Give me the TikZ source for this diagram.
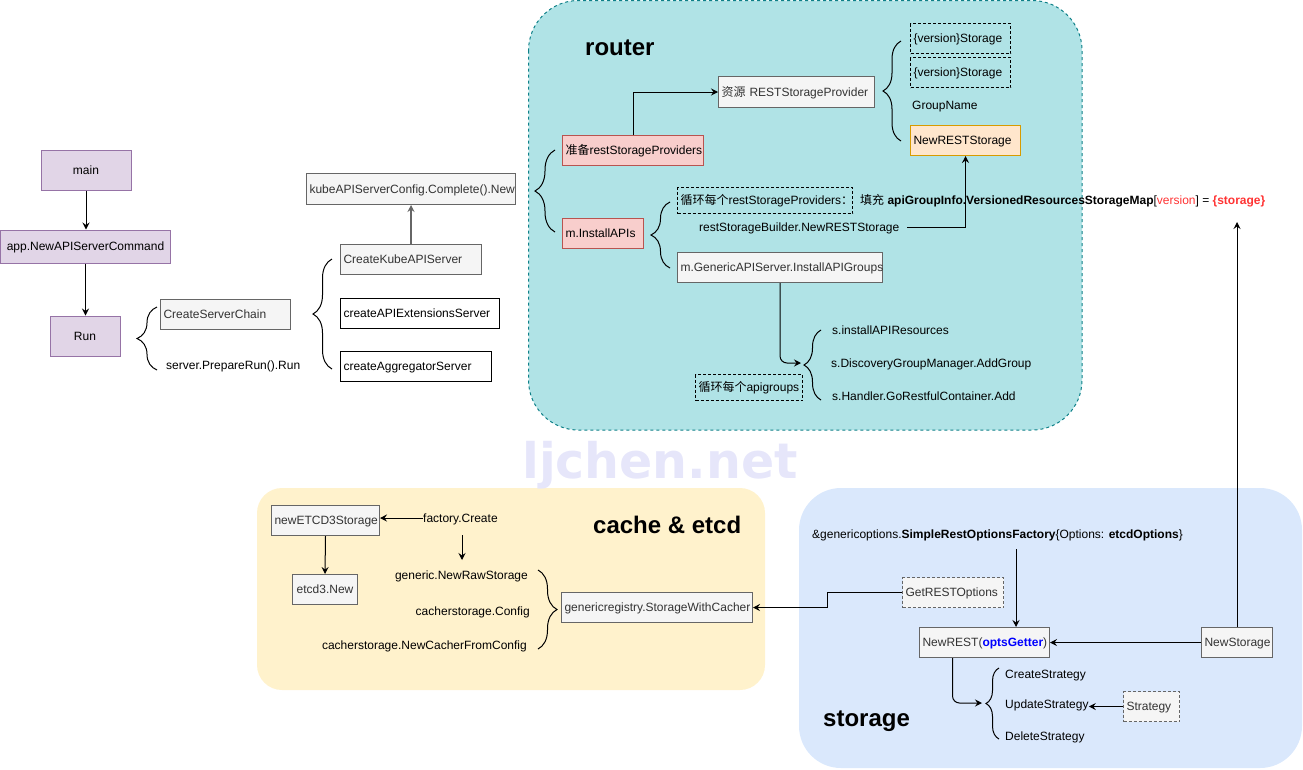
\documentclass[tikz,border=0pt]{standalone}
\usepackage{fontspec}
\setmainfont{Liberation Sans}
\newfontfamily\cjk{Noto Sans CJK SC}
\newfontfamily\wmfont{DejaVu Sans}
\usetikzlibrary{arrows.meta,decorations.pathreplacing}
\definecolor{gfill}{HTML}{F5F5F5}
\definecolor{gline}{HTML}{666666}
\definecolor{gtext}{HTML}{333333}
\definecolor{pfill}{HTML}{E1D5E7}
\definecolor{pline}{HTML}{9673A6}
\definecolor{rfill}{HTML}{F8CECC}
\definecolor{rline}{HTML}{B85450}
\definecolor{ofill}{HTML}{FFE6CC}
\definecolor{oline}{HTML}{D79B00}
\definecolor{tfill}{HTML}{B0E3E6}
\definecolor{tline}{HTML}{0E8088}
\definecolor{yfill}{HTML}{FFF2CC}
\definecolor{bfill}{HTML}{DAE8FC}
\definecolor{wmcol}{HTML}{E6E6FA}
\definecolor{redt}{HTML}{FF3333}
\definecolor{bluet}{HTML}{0000FF}
\begin{document}
\begin{tikzpicture}[x=1pt,y=-1pt,
  every node/.style={font=\fontsize{12}{14}\selectfont, inner sep=0pt, text height=8.6pt, text depth=0pt},
  bx/.style={draw, line width=1pt, inner xsep=3pt, minimum height=30pt, anchor=north west, align=left},
  gbox/.style={bx, draw=gline, fill=gfill, text=gtext},
  wbox/.style={bx, draw=black, fill=white},
  rbox/.style={bx, draw=rline, fill=rfill},
  obox/.style={bx, draw=oline, fill=ofill},
  dbox/.style={bx, draw=black, dashed, dash pattern=on 3pt off 2pt},
  gdbox/.style={bx, draw=gline, fill=gfill, text=gtext, dashed, dash pattern=on 3pt off 2pt},
  pbox/.style={draw=pline, fill=pfill, line width=1pt, align=center},
  title/.style={anchor=west, font=\fontsize{24}{28}\selectfont\bfseries, text height=17pt},
  arr/.style={-{Stealth[length=7pt,width=7pt,inset=2.5pt]}, line width=1pt},
  brc/.style={decorate, decoration={brace, amplitude=#1}, line width=1pt},
]
\useasboundingbox (0,0) rectangle (1303,769);

% regions
\draw[tline, line width=1pt, dash pattern=on 3pt off 3pt, fill=tfill, rounded corners=50pt] (528.5,0.5) rectangle (1082,430);
\fill[yfill, rounded corners=25pt] (257,488) rectangle (765,690);
\fill[bfill, rounded corners=42pt] (799,488) rectangle (1302,768);

% watermark
\node[anchor=base west, font=\wmfont\bfseries\fontsize{49}{55}\selectfont, text=wmcol] (wm) at (522,478) {ljchen.net};

% left column
\node[pbox, minimum width=90pt, minimum height=40pt] (main) at (86,170) {main};
\node[pbox, minimum width=170pt, minimum height=33pt] (app) at (85.5,246.5) {app.NewAPIServerCommand};
\node[pbox, minimum width=70pt, minimum height=40pt] (run) at (85,336) {Run};
\draw[arr] (main.south) -- (main.south |- app.north);
\draw[arr] (app.south) -- (app.south |- run.north);

\draw[brc=20pt] (157,370) -- (157,307);
\node[gbox, text width=124pt] (csc) at (160,299) {CreateServerChain};
\node[anchor=west] (spr) at (166,365) {server.PrepareRun().Run};

\draw[brc=19pt] (332,369) -- (332,259);
\node[gbox, text width=135pt] (cks) at (340,244) {CreateKubeAPIServer};
\node[wbox, text width=153pt] (cae) at (340,298) {createAPIExtensionsServer};
\node[wbox, text width=145pt] (cag) at (340,351) {createAggregatorServer};
\node[gbox, text width=203pt, minimum height=31pt] (kcn) at (306,173) {kubeAPIServerConfig.Complete().New};
\draw[arr, draw=gline, line width=1.5pt] (cks.north) -- (kcn.south);

% router
\node[title] (rt) at (585,47) {router};
\node[gbox, text width=150pt, minimum height=31pt] (rsp) at (718,76) {{\cjk 资源} RESTStorageProvider};
\draw[brc=18pt] (901,141) -- (901,41);
\node[dbox, text width=94pt] (v1) at (910,23) {\{version\}Storage};
\node[dbox, text width=94pt] (v2) at (910,57) {\{version\}Storage};
\node[anchor=west] (gn) at (912,105) {GroupName};
\node[obox, text width=104pt] (nrs) at (910,125) {NewRESTStorage};
\node[rbox, text width=135pt] (prep) at (562,135) {{\cjk 准备}restStorageProviders};
\draw[arr] (prep.north) |- (rsp.west);
\draw[brc=20pt] (555,232) -- (555,150);
\node[rbox, text width=75pt] (mia) at (562,218) {m.InstallAPIs};
\draw[brc=19pt] (670,268) -- (670,202);
\node[dbox, text width=169pt, minimum height=26pt] (lp1) at (677,187) {{\cjk 循环每个}restStorageProviders{\cjk ：}};
\node[anchor=west] (fill) at (860,200) {{\cjk 填充} \textbf{apiGroupInfo.VersionedResourcesStorageMap}[\textcolor{redt}{version}] = \textcolor{redt}{\textbf{\{storage\}}}};
\node[anchor=west] (rsb) at (699,227) {restStorageBuilder.NewRESTStorage};
\coordinate (rsbend) at (907,227);
\draw[arr] (rsbend) -| (nrs.south);
\node[gbox, text width=199pt] (gig) at (677,252) {m.GenericAPIServer.InstallAPIGroups};
\coordinate (agtip) at (801,363);
\draw[arr, rounded corners=7pt] (gig.south) |- (agtip);
\draw[brc=17pt] (821,400) -- (821,330);
\node[anchor=west] (sia) at (832,330) {s.installAPIResources};
\node[anchor=west] (sdg) at (831,363) {s.DiscoveryGroupManager.AddGroup};
\node[anchor=west] (shg) at (832,396) {s.Handler.GoRestfulContainer.Add};
\node[dbox, text width=101pt, minimum height=26pt] (lp2) at (695,374) {{\cjk 循环每个}apigroups};

% cache & etcd
\node[title] (ct) at (593,525) {cache \& etcd};
\node[gbox, text width=102pt] (ne3) at (271,505) {newETCD3Storage};
\node[gbox, text width=59pt, align=center] (e3n) at (292,574) {etcd3.New};
\draw[arr] (ne3.south) -- (e3n.north);
\node[anchor=west] (fc) at (423,518) {factory.Create};
\draw[arr] (fc.west) -- (fc.west -| ne3.east);
\coordinate (fcs) at (462,535);
\coordinate (fce) at (462,560);
\draw[arr] (fcs) -- (fce);
\node[anchor=east] (gnr) at (528,575) {generic.NewRawStorage};
\node[anchor=east] (csg) at (530,611) {cacherstorage.Config};
\node[anchor=east] (cnc) at (527,645) {cacherstorage.NewCacherFromConfig};
\draw[brc=19pt] (538,570) -- (538,649);
\node[gbox, text width=185pt] (gsc) at (561,592) {genericregistry.StorageWithCacher};

% storage
\node[title] (st) at (823,718) {storage};
\node[anchor=west] (sro) at (812,534) {\&genericoptions.\textbf{SimpleRestOptionsFactory}\{Options: \textbf{etcdOptions}\}};
\node[gdbox, text width=95pt] (gro) at (902,577) {GetRESTOptions};
\node[gbox, text width=124pt] (nr) at (919,627) {NewREST(\textcolor{bluet}{\textbf{optsGetter}})};
\node[gbox, text width=65pt] (ns) at (1201,627) {NewStorage};
\coordinate (srop) at (1016,549);
\draw[arr] (srop) -- (srop |- nr.north);
\draw[arr] (gro.west) -- ++(-75,0) |- (gsc.east);
\draw[arr] (ns.west) -- (nr.east);
\coordinate (stgtip) at (1236,222);
\draw[arr] (ns.north) -- (ns.north |- stgtip);
\coordinate (sbtip) at (982,703);
\draw[arr, rounded corners=7pt] ([xshift=-32pt]nr.south) |- (sbtip);
\draw[brc=13pt] (999,739) -- (999,668);
\node[anchor=west] (cst) at (1005,674) {CreateStrategy};
\node[anchor=west] (ust) at (1005,704) {UpdateStrategy};
\node[anchor=west] (dst) at (1005,736) {DeleteStrategy};
\node[gdbox, text width=50pt] (strat) at (1123,691) {Strategy};
\draw[arr] (strat.west) -- (strat.west -| ust.east);
\end{tikzpicture}
\end{document}
